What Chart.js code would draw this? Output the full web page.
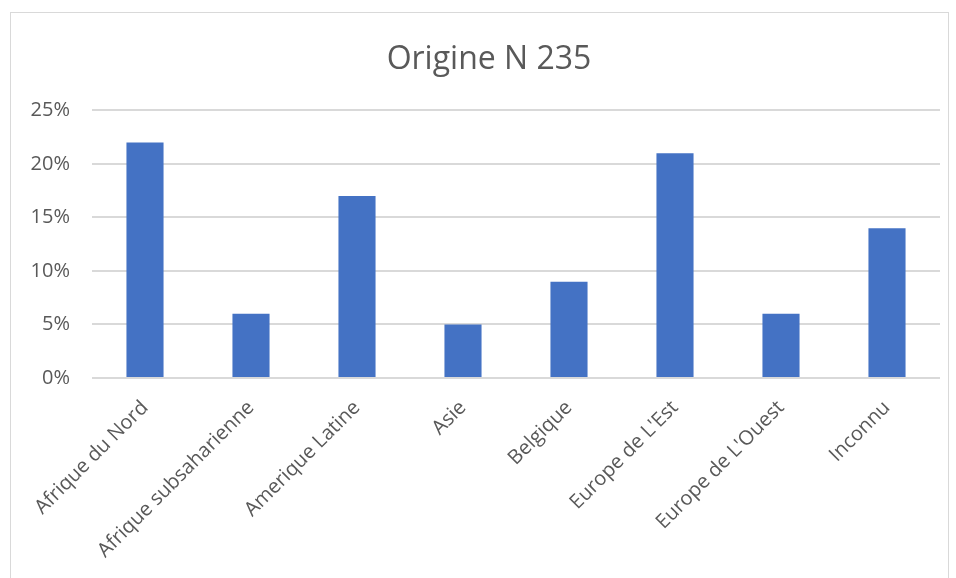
<!DOCTYPE html>
<html>
<head>
<meta charset="utf-8">
<script src="https://cdn.jsdelivr.net/npm/chart.js@4.4.0/dist/chart.umd.min.js"></script>
<style>
    html, body { margin: 0; padding: 0; background: #fff; overflow: hidden; }
    #wrap { position: relative; width: 956px; height: 578px; }
    #frame { position: absolute; left: 10px; top: 12px; width: 937px; height: 600px; border: 1px solid #d9d9d9; }
    #chart { position: absolute; left: 0; top: 0; }
</style>
</head>
<body>
<div id="wrap">
    <div id="frame"></div>
    <canvas id="chart" width="956" height="578"></canvas>
</div>
<script>
// Chart data
const categories = ['Afrique du Nord', 'Afrique subsaharienne', 'Amerique Latine', 'Asie', 'Belgique', "Europe de L'Est", "Europe de L'Ouest", 'Inconnu'];
const shares = [22, 6, 17, 5, 9, 21, 6, 14];
const yTicks = [0, 5, 10, 15, 20, 25];

const textColor = '#595959';
const font = "'Open Sans', 'Noto Sans', sans-serif";

// nudge the title so it sits centred on the frame like the original
const titleShift = {
    id: 'titleShift',
    afterLayout(chart) {
        if (chart.titleBlock) chart.titleBlock.left += 38;
    }
};

const ctx = document.getElementById('chart').getContext('2d');
new Chart(ctx, {
    type: 'bar',
    data: {
        labels: categories,
        datasets: [{
            label: 'Origine',
            data: shares,
            backgroundColor: '#4472C4',
            borderWidth: 0,
            barPercentage: 0.35,
            categoryPercentage: 1
        }]
    },
    options: {
        responsive: false,
        animation: false,
        layout: { padding: { left: 0, right: 16, top: 0, bottom: 0 } },
        plugins: {
            legend: { display: false },
            tooltip: { enabled: false },
            title: {
                display: true,
                text: 'Origine N 235',
                color: textColor,
                font: { family: font, size: 32, weight: 'normal' },
                padding: { top: 41, bottom: 31 }
            }
        },
        scales: {
            x: {
                grid: { display: false, drawTicks: false },
                border: { display: false },
                ticks: {
                    color: textColor,
                    font: { family: font, size: 20 },
                    minRotation: 45,
                    maxRotation: 45,
                    padding: 18,
                    autoSkip: false
                },
                afterFit: (axis) => { axis.height = 200; }
            },
            y: {
                min: 0,
                max: 25,
                afterBuildTicks: (axis) => { axis.ticks = yTicks.map(v => ({ value: v })); },
                grid: { color: '#d9d9d9', lineWidth: 2, drawTicks: false },
                border: { display: false },
                ticks: {
                    color: textColor,
                    font: { family: font, size: 20 },
                    padding: 22,
                    callback: (v) => v + '%'
                },
                afterFit: (axis) => { axis.width = 92; }
            }
        }
    },
    plugins: [titleShift]
});
</script>
</body>
</html>
